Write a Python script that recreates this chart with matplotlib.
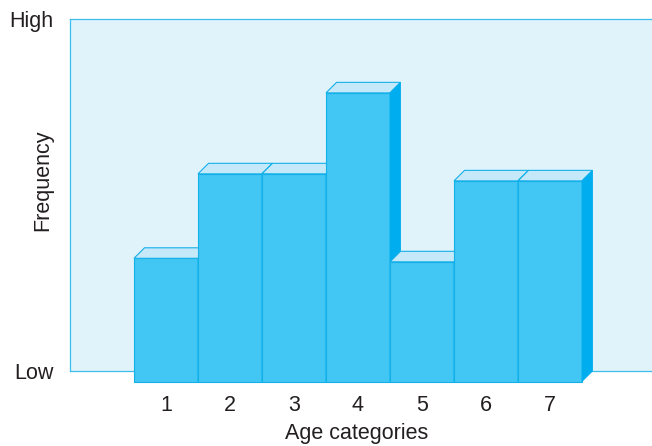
import matplotlib.pyplot as plt
from matplotlib.patches import Polygon

plt.rcParams['font.family'] = ['Liberation Sans', 'DejaVu Sans']

# frequency per age category (arbitrary units, 0 = Low, 100 = High)
categories = [1, 2, 3, 4, 5, 6, 7]
heights = [35, 59, 59, 82, 34, 57, 57]
level_labels = ["Low", "High"]

W, H = 652, 446
fig = plt.figure(figsize=(W / 100, H / 100), dpi=100)

# back wall of the chart
left, right, top, bottom = 70, 652, 19, 371
ax = fig.add_axes([left / W, (H - bottom) / H, (right - left) / W, (bottom - top) / H])
ax.set_facecolor("#e0f3fb")
for side in ["left", "top", "bottom"]:
    ax.spines[side].set_color("#3dbdec")
    ax.spines[side].set_linewidth(0.9)
ax.spines["right"].set_visible(False)

bar_px = 64  # width of one bar in pixels
x0 = 1 - (166 - left) / bar_px
ax.set_xlim(x0, x0 + (right - left) / bar_px)
ax.set_ylim(0, 100)

# depth of the 3d boxes, 10.5 px converted to data units
depth = 10.5
ddx = depth / bar_px
ddy = depth * 100 / (bottom - top)

front_c = "#42c6f3"
top_c = "#c6e9f9"
side_c = "#00aeef"
edge_c = "#14b0ea"

for i, (x, h) in enumerate(zip(categories, heights)):
    z = 3 + i
    ax.bar(x, h, width=1, bottom=-ddy, color=front_c, edgecolor=edge_c,
           linewidth=0.8, clip_on=False, zorder=z)
    lx, rx = x - 0.5, x + 0.5
    ax.add_patch(Polygon([(lx, h - ddy), (rx, h - ddy), (rx + ddx, h), (lx + ddx, h)],
                         closed=True, facecolor=top_c, edgecolor=edge_c,
                         linewidth=0.8, clip_on=False, zorder=z))
    ax.add_patch(Polygon([(rx, -ddy), (rx, h - ddy), (rx + ddx, h), (rx + ddx, 0)],
                         closed=True, facecolor=side_c, edgecolor=side_c,
                         linewidth=0.6, clip_on=False, zorder=z))

txt = "#231f20"
fs = 15.5
ax.set_xticks(categories)
ax.set_xticklabels([str(c) for c in categories])
ax.set_yticks([0, 100])
ax.set_yticklabels(level_labels)
ax.tick_params(axis="x", length=0, pad=17, labelsize=fs, labelcolor=txt)
ax.tick_params(axis="y", length=0, pad=12, labelsize=fs, labelcolor=txt)

fig.text(357 / W, 1 - 434 / H, "Age categories", ha="center", va="center",
         fontsize=fs, color=txt)
fig.text(43 / W, 1 - 180 / H, "Frequency", ha="center", va="center",
         rotation=90, fontsize=fs, color=txt)

fig.savefig("out.png", dpi=100)
